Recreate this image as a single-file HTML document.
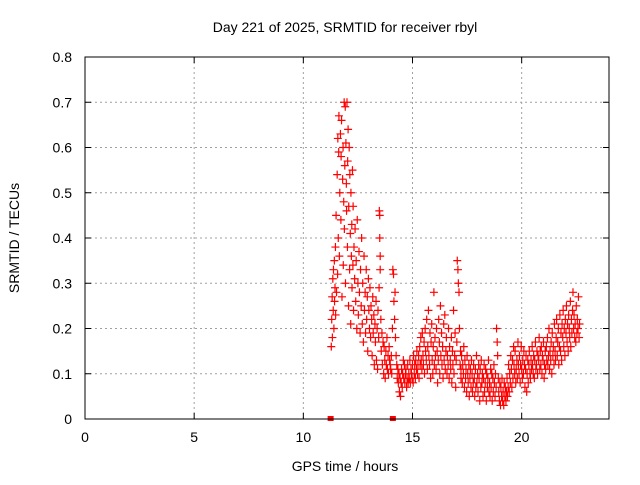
<!DOCTYPE html>
<html><head><meta charset="utf-8"><style>
body{margin:0;background:#fff;font-family:"Liberation Sans",sans-serif;}
svg text{font-family:"Liberation Sans",sans-serif;font-size:14px;fill:#000;}
</style></head><body>
<svg id="chart" width="640" height="480" xmlns="http://www.w3.org/2000/svg">
<rect width="640" height="480" fill="#fff"/>
<text x="345" y="32" text-anchor="middle">Day 221 of 2025, SRMTID for receiver rbyl</text>
<text x="345" y="471" text-anchor="middle">GPS time / hours</text>
<text transform="translate(19,238) rotate(-90)" text-anchor="middle">SRMTID / TECUs</text>
<g id="grid"></g>
<g id="ticks"></g>
<g id="marks"></g>
<rect x="85" y="57" width="524" height="362" fill="none" stroke="#000" stroke-width="1"/>
</svg>
<script>
const xTicks = [0,5,10,15,20];
const yTicks = [0,0.1,0.2,0.3,0.4,0.5,0.6,0.7,0.8];
const yTickLabels = ["0","0.1","0.2","0.3","0.4","0.5","0.6","0.7","0.8"];
const hours = [11.28,11.30,11.32,11.33,11.35,11.37,11.38,11.40,11.42,11.43,11.45,11.47,11.48,11.50,11.52,11.55,11.57,11.58,11.60,11.62,11.63,11.65,11.67,11.70,11.72,11.73,11.75,11.77,11.80,11.82,11.83,11.85,11.87,11.88,11.90,11.92,11.93,11.95,11.97,11.98,12.00,12.02,12.03,12.05,12.07,12.08,12.10,12.12,12.13,12.15,12.17,12.18,12.20,12.22,12.23,12.25,12.27,12.28,12.30,12.32,12.35,12.37,12.40,12.42,12.45,12.47,12.50,12.52,12.55,12.57,12.60,12.62,12.65,12.67,12.70,12.72,12.75,12.78,12.80,12.83,12.85,12.88,12.90,12.93,12.95,12.98,13.00,13.03,13.05,13.08,13.10,13.13,13.15,13.18,13.20,13.23,13.25,13.28,13.30,13.33,13.35,13.38,13.40,13.42,13.45,13.47,13.48,13.50,13.50,13.52,13.52,13.55,13.57,13.60,13.62,13.65,13.68,13.70,13.73,13.75,13.78,13.80,13.83,13.85,13.88,13.90,13.93,13.95,13.98,14.00,14.03,14.05,14.08,14.10,14.13,14.15,14.18,14.20,14.22,14.25,14.28,14.30,14.33,14.35,14.38,14.40,14.43,14.45,14.48,14.50,14.53,14.55,14.58,14.60,14.63,14.65,14.68,14.70,14.73,14.75,14.78,14.80,14.83,14.85,14.88,14.90,14.93,14.95,14.98,15.00,15.03,15.05,15.08,15.10,15.13,15.15,15.18,15.20,15.23,15.25,15.28,15.30,15.33,15.35,15.38,15.40,15.43,15.45,15.48,15.50,15.53,15.55,15.58,15.60,15.63,15.65,15.68,15.70,15.73,15.75,15.78,15.80,15.83,15.85,15.88,15.90,15.93,15.95,15.98,16.00,16.03,16.05,16.08,16.10,16.13,16.15,16.18,16.20,16.23,16.25,16.28,16.30,16.33,16.35,16.38,16.40,16.43,16.45,16.48,16.50,16.53,16.55,16.58,16.60,16.63,16.65,16.68,16.70,16.73,16.75,16.78,16.80,16.83,16.85,16.88,16.90,16.93,16.95,16.98,17.00,17.03,17.05,17.08,17.10,17.13,17.15,17.18,17.20,17.22,17.22,17.25,17.28,17.30,17.33,17.35,17.38,17.40,17.43,17.45,17.48,17.50,17.53,17.55,17.58,17.60,17.63,17.65,17.68,17.70,17.73,17.75,17.78,17.80,17.83,17.85,17.88,17.90,17.93,17.95,17.98,18.00,18.03,18.05,18.08,18.10,18.13,18.15,18.18,18.20,18.23,18.25,18.28,18.30,18.33,18.35,18.38,18.40,18.43,18.45,18.48,18.50,18.53,18.55,18.58,18.60,18.63,18.65,18.68,18.70,18.73,18.75,18.78,18.80,18.83,18.85,18.88,18.90,18.93,18.95,18.98,19.00,19.03,19.05,19.08,19.10,19.13,19.15,19.18,19.20,19.23,19.25,19.28,19.30,19.33,19.35,19.38,19.40,19.43,19.45,19.48,19.50,19.53,19.55,19.58,19.60,19.63,19.65,19.68,19.70,19.73,19.75,19.78,19.80,19.83,19.85,19.88,19.90,19.93,19.95,19.98,20.00,20.03,20.05,20.08,20.10,20.13,20.15,20.18,20.20,20.23,20.25,20.28,20.30,20.33,20.35,20.38,20.40,20.43,20.45,20.48,20.50,20.53,20.55,20.58,20.60,20.63,20.65,20.68,20.70,20.73,20.75,20.78,20.80,20.83,20.85,20.88,20.90,20.93,20.95,20.98,21.00,21.03,21.05,21.08,21.10,21.13,21.15,21.18,21.20,21.23,21.25,21.28,21.30,21.33,21.35,21.38,21.40,21.43,21.45,21.48,21.50,21.53,21.55,21.58,21.60,21.63,21.65,21.68,21.70,21.73,21.75,21.78,21.80,21.83,21.85,21.88,21.90,21.93,21.95,21.98,22.00,22.03,22.05,22.08,22.10,22.13,22.15,22.18,22.20,22.23,22.25,22.28,22.30,22.33,22.35,22.38,22.40,22.43,22.45,22.48,22.50,22.53,22.55,22.58,22.60,22.63,22.65,22.68,22.70,22.73,22.75,22.78,22.80];
const srmtid = [0.16,0.22,0.27,0.18,0.31,0.24,0.33,0.20,0.35,0.26,0.29,0.38,0.23,0.45,0.28,0.54,0.32,0.62,0.40,0.59,0.67,0.36,0.50,0.63,0.44,0.58,0.66,0.27,0.53,0.60,0.34,0.48,0.70,0.42,0.56,0.69,0.30,0.61,0.52,0.46,0.70,0.38,0.57,0.64,0.25,0.47,0.60,0.33,0.54,0.41,0.21,0.50,0.36,0.43,0.29,0.55,0.34,0.47,0.24,0.38,0.31,0.42,0.26,0.35,0.20,0.44,0.30,0.23,0.37,0.28,0.19,0.33,0.25,0.40,0.21,0.30,0.17,0.36,0.24,0.28,0.19,0.33,0.22,0.27,0.15,0.31,0.24,0.20,0.29,0.18,0.25,0.22,0.14,0.27,0.19,0.23,0.12,0.21,0.17,0.26,0.13,0.20,0.11,0.24,0.18,0.29,0.46,0.45,0.40,0.36,0.33,0.22,0.15,0.19,0.12,0.17,0.10,0.16,0.13,0.09,0.15,0.12,0.18,0.11,0.14,0.10,0.16,0.13,0.12,0.11,0.14,0.10,0.20,0.33,0.32,0.26,0.22,0.28,0.18,0.14,0.12,0.09,0.11,0.08,0.10,0.06,0.09,0.05,0.08,0.11,0.07,0.10,0.13,0.09,0.12,0.08,0.10,0.11,0.07,0.09,0.12,0.08,0.10,0.09,0.13,0.08,0.11,0.10,0.09,0.12,0.08,0.14,0.10,0.12,0.09,0.13,0.11,0.15,0.10,0.12,0.14,0.09,0.16,0.12,0.18,0.13,0.11,0.19,0.14,0.12,0.17,0.10,0.20,0.15,0.13,0.22,0.11,0.16,0.24,0.14,0.12,0.19,0.09,0.17,0.21,0.13,0.10,0.16,0.28,0.12,0.18,0.14,0.11,0.20,0.15,0.08,0.13,0.22,0.17,0.10,0.25,0.14,0.19,0.12,0.16,0.09,0.21,0.13,0.23,0.11,0.15,0.18,0.10,0.14,0.12,0.20,0.09,0.16,0.13,0.11,0.18,0.08,0.15,0.12,0.24,0.10,0.14,0.19,0.07,0.13,0.17,0.35,0.33,0.30,0.28,0.20,0.12,0.15,0.09,0.11,0.14,0.08,0.12,0.10,0.16,0.07,0.13,0.09,0.11,0.06,0.14,0.10,0.08,0.12,0.05,0.09,0.11,0.07,0.13,0.10,0.06,0.08,0.12,0.09,0.05,0.11,0.07,0.14,0.08,0.10,0.06,0.12,0.09,0.04,0.11,0.07,0.13,0.08,0.10,0.05,0.09,0.12,0.06,0.08,0.11,0.04,0.10,0.07,0.09,0.13,0.06,0.08,0.05,0.11,0.07,0.10,0.04,0.09,0.06,0.12,0.08,0.05,0.10,0.07,0.20,0.17,0.14,0.09,0.06,0.04,0.08,0.03,0.07,0.05,0.09,0.04,0.06,0.03,0.08,0.05,0.07,0.04,0.06,0.09,0.05,0.07,0.12,0.06,0.10,0.08,0.14,0.11,0.07,0.13,0.09,0.16,0.12,0.10,0.15,0.08,0.11,0.13,0.09,0.17,0.12,0.10,0.14,0.08,0.12,0.16,0.11,0.09,0.13,0.10,0.15,0.12,0.07,0.11,0.14,0.06,0.10,0.13,0.08,0.12,0.15,0.10,0.09,0.13,0.11,0.16,0.12,0.10,0.14,0.09,0.13,0.17,0.11,0.12,0.15,0.10,0.14,0.13,0.18,0.11,0.15,0.12,0.16,0.10,0.14,0.13,0.17,0.09,0.12,0.15,0.11,0.16,0.13,0.18,0.12,0.14,0.20,0.11,0.15,0.13,0.17,0.10,0.19,0.14,0.16,0.12,0.21,0.15,0.13,0.18,0.22,0.14,0.17,0.20,0.12,0.16,0.23,0.15,0.19,0.13,0.21,0.18,0.24,0.16,0.20,0.14,0.22,0.19,0.25,0.17,0.21,0.15,0.23,0.20,0.18,0.26,0.16,0.22,0.19,0.24,0.28,0.20,0.23,0.18,0.21,0.17,0.25,0.19,0.22,0.20,0.27,0.18,0.21];
const zeroHours = [11.25,14.1];

const X0=85,X1=609,Y0=419,Y1=57,XMAX=24,YMAX=0.8;
function sx(h){return X0+(X1-X0)*h/XMAX;}
function sy(v){return Y0-(Y0-Y1)*v/YMAX;}
const NS="http://www.w3.org/2000/svg";
const grid=document.getElementById('grid'),ticks=document.getElementById('ticks'),marks=document.getElementById('marks');
function mk(tag,attrs,parent){const e=document.createElementNS(NS,tag);for(const k in attrs)e.setAttribute(k,attrs[k]);parent.appendChild(e);return e;}
yTicks.forEach((v,i)=>{
  const y=sy(v);
  if(v>0&&v<YMAX){const g=mk('line',{x1:X0,x2:X1,y1:y,y2:y,stroke:'#a0a0a0','stroke-dasharray':'2,3'},grid);
  
  }
  mk('line',{x1:X0,x2:X0+6,y1:y,y2:y,stroke:'#000'},ticks);
  mk('line',{x1:X1,x2:X1-6,y1:y,y2:y,stroke:'#000'},ticks);
  const t=mk('text',{x:X0-13,y:y+5,'text-anchor':'end'},ticks);t.textContent=yTickLabels[i];
  
  
});
xTicks.forEach(h=>{
  const x=sx(h);
  if(h>0){const g=mk('line',{x1:x,x2:x,y1:Y0,y2:Y1,stroke:'#a0a0a0','stroke-dasharray':'2,3'},grid);
  
  }
  mk('line',{x1:x,x2:x,y1:Y0,y2:Y0-6,stroke:'#000'},ticks);
  mk('line',{x1:x,x2:x,y1:Y1,y2:Y1+6,stroke:'#000'},ticks);
  const t=mk('text',{x:x,y:Y0+23,'text-anchor':'middle'},ticks);t.textContent=String(h);
  
  
});
let d='';
for(let i=0;i<hours.length;i++){const x=sx(hours[i]),y=sy(srmtid[i]);d+=`M${x-4},${y}h8M${x},${y-4}v8`;}
const p=mk('path',{d:d,stroke:'#ff0000','stroke-width':1.2,fill:'none'},marks);


zeroHours.forEach(h=>{
  const r=mk('rect',{x:sx(h)-3,y:Y0-3,width:6,height:5,fill:'#ff0000'},marks);
  
  
});
</script>
</body></html>
